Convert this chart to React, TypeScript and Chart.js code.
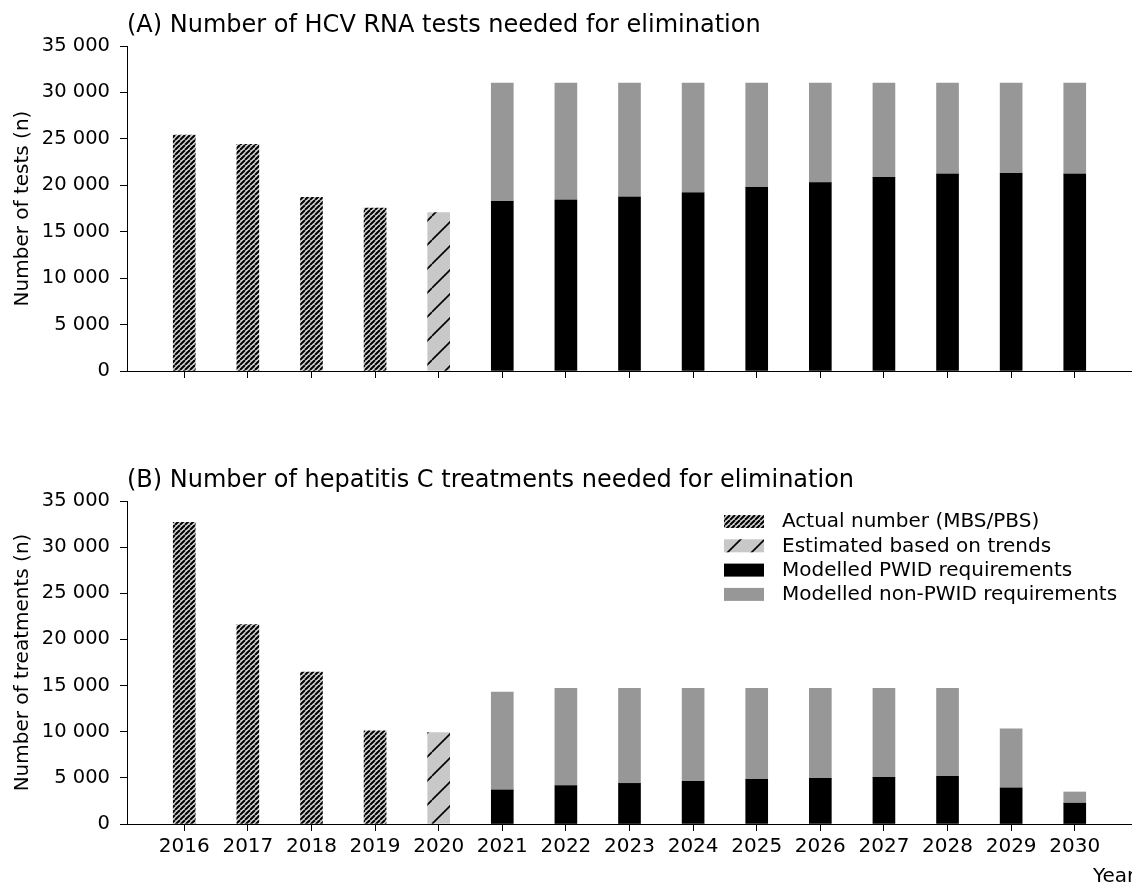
import React, { useEffect, useRef } from "react";
import { Chart, registerables } from "chart.js";

Chart.register(...registerables);

const years = [2016, 2017, 2018, 2019, 2020, 2021, 2022, 2023, 2024, 2025, 2026, 2027, 2028, 2029, 2030];
const actualYears = [2016, 2017, 2018, 2019];
const estimatedYears = [2020];
const modelledYears = [2021, 2022, 2023, 2024, 2025, 2026, 2027, 2028, 2029, 2030];

// Panel A: HCV RNA tests
const testsActual = [25400, 24400, 18700, 17550];
const testsEstimated = [17050];
const testsPWID = [18270, 18400, 18740, 19200, 19780, 20300, 20850, 21200, 21300, 21200];
const testsNonPWID = [12730, 12600, 12260, 11800, 11220, 10700, 10150, 9800, 9700, 9800];

// Panel B: hepatitis C treatments
const treatActual = [32700, 21600, 16450, 10100];
const treatEstimated = [9900];
const treatPWID = [3680, 4150, 4400, 4630, 4850, 4950, 5060, 5170, 3900, 2250];
const treatNonPWID = [10620, 10550, 10300, 10070, 9850, 9750, 9640, 9530, 6400, 1220];

const yTicks = [0, 5000, 10000, 15000, 20000, 25000, 30000, 35000];
const legendLabels = [
  "Actual number (MBS/PBS)",
  "Estimated based on trends",
  "Modelled PWID requirements",
  "Modelled non-PWID requirements",
];

const FONT = '"DejaVu Sans", sans-serif';

function makeHatch(spacing: number, lineWidth: number, bg: string, fg: string) {
  const c = document.createElement("canvas");
  c.width = spacing;
  c.height = spacing;
  const ctx = c.getContext("2d")!;
  ctx.fillStyle = bg;
  ctx.fillRect(0, 0, spacing, spacing);
  ctx.strokeStyle = fg;
  ctx.lineWidth = lineWidth;
  ctx.beginPath();
  for (let k = -1; k <= 1; k++) {
    ctx.moveTo(k * spacing, spacing);
    ctx.lineTo(k * spacing + spacing, 0);
  }
  ctx.stroke();
  const tmp = document.createElement("canvas").getContext("2d")!;
  return tmp.createPattern(c, "repeat")!;
}

function fmt(v: number) {
  return String(v).replace(/\B(?=(\d{3})+(?!\d))/g, " ");
}

function pts(xs: number[], ys: number[]) {
  return xs.map((x, i) => ({ x, y: ys[i] }));
}

type PanelProps = {
  height: number;
  top: number;
  areaBottom: number;
  title: string;
  titleBaseline: number;
  yTitle: string;
  actual: number[];
  estimated: number[];
  pwid: number[];
  nonPwid: number[];
  showXLabels: boolean;
  showLegend: boolean;
};

function Panel(props: PanelProps) {
  const ref = useRef<HTMLCanvasElement>(null);
  useEffect(() => {
    const canvas = ref.current!;
    const dense = makeHatch(5, 2, "#d2d2d2", "#000");
    const sparse = makeHatch(24, 1.6, "#c8c8c8", "#000");
    const overlay = {
      id: "overlay",
      afterDraw(chart: any) {
        const ctx = chart.ctx as CanvasRenderingContext2D;
        const area = chart.chartArea;
        ctx.save();
        ctx.fillStyle = "#000";
        ctx.font = `24px ${FONT}`;
        ctx.textAlign = "left";
        ctx.textBaseline = "alphabetic";
        ctx.fillText(props.title, area.left, props.titleBaseline);
        ctx.font = `20px ${FONT}`;
        ctx.save();
        ctx.translate(23, (area.top + area.bottom) / 2);
        ctx.rotate(-Math.PI / 2);
        ctx.textAlign = "center";
        ctx.textBaseline = "middle";
        ctx.fillText(props.yTitle, 0, 0);
        ctx.restore();
        if (props.showXLabels) {
          ctx.textAlign = "left";
          ctx.textBaseline = "alphabetic";
          ctx.fillText("Year", 1093, chart.height - 1);
        }
        if (props.showLegend) {
          const ds = chart.data.datasets;
          for (let i = 0; i < ds.length; i++) {
            const cy = 522 - 440 + i * 24.3;
            ctx.fillStyle = ds[i].backgroundColor;
            ctx.fillRect(724, cy - 7, 40, 13);
            ctx.fillStyle = "#000";
            ctx.textAlign = "left";
            ctx.textBaseline = "middle";
            ctx.fillText(ds[i].label, 782, cy);
          }
        }
        ctx.restore();
      },
    };
    const chart = new Chart(canvas, {
      type: "bar",
      data: {
        datasets: [
          {
            label: legendLabels[0],
            data: pts(actualYears, props.actual),
            backgroundColor: dense as any,
            borderWidth: 0,
          },
          {
            label: legendLabels[1],
            data: pts(estimatedYears, props.estimated),
            backgroundColor: sparse as any,
            borderWidth: 0,
          },
          {
            label: legendLabels[2],
            data: pts(modelledYears, props.pwid),
            backgroundColor: "#000000",
            borderWidth: 0,
          },
          {
            label: legendLabels[3],
            data: pts(modelledYears, props.nonPwid),
            backgroundColor: "#979797",
            borderWidth: 0,
          },
        ] as any,
      },
      options: {
        animation: false,
        responsive: false,
        maintainAspectRatio: false,
        datasets: { bar: { barThickness: 22 } } as any,
        layout: { padding: { top: props.top, left: 0, right: 0, bottom: 0 } },
        plugins: {
          legend: { display: false },
          tooltip: { enabled: false },
          title: { display: false },
        },
        scales: {
          x: {
            type: "linear",
            stacked: true,
            offset: false,
            min: 2015.1,
            max: 2030.9,
            afterBuildTicks: (scale: any) => {
              scale.ticks = years.map((v) => ({ value: v }));
            },
            afterFit: (scale: any) => {
              scale.height = props.height - props.areaBottom;
            },
            ticks: {
              color: "#000",
              font: { family: FONT, size: 20 },
              padding: 4,
              maxRotation: 0,
              autoSkip: false,
              callback: (v: any) => (props.showXLabels ? String(v) : ""),
            },
            grid: {
              offset: false,
              drawOnChartArea: false,
              drawTicks: true,
              tickLength: 7,
              color: "#000",
              lineWidth: 1,
            },
            border: { display: true, color: "#000", width: 1 },
          },
          y: {
            type: "linear",
            stacked: true,
            min: 0,
            max: 35000,
            afterBuildTicks: (scale: any) => {
              scale.ticks = yTicks.map((v) => ({ value: v }));
            },
            afterFit: (scale: any) => {
              scale.width = 127;
            },
            ticks: {
              color: "#000",
              font: { family: FONT, size: 19.5 },
              padding: 10,
              callback: (v: any) => fmt(Number(v)),
            },
            grid: {
              drawOnChartArea: false,
              drawTicks: true,
              tickLength: 7,
              color: "#000",
              lineWidth: 1,
            },
            border: { display: true, color: "#000", width: 1 },
          },
        },
      } as any,
      plugins: [overlay],
    });
    return () => chart.destroy();
  }, []);
  return (
    <div style={{ width: 1132, height: props.height }}>
      <canvas ref={ref} width={1132} height={props.height} style={{ display: "block" }} />
    </div>
  );
}

export default function App() {
  return (
    <div style={{ position: "absolute", left: 0, top: 0, width: 1132, height: 883, background: "#fff" }}>
      <Panel
        height={440}
        top={46}
        areaBottom={371}
        title="(A) Number of HCV RNA tests needed for elimination"
        titleBaseline={32}
        yTitle="Number of tests (n)"
        actual={testsActual}
        estimated={testsEstimated}
        pwid={testsPWID}
        nonPwid={testsNonPWID}
        showXLabels={false}
        showLegend={false}
      />
      <Panel
        height={443}
        top={61}
        areaBottom={384}
        title="(B) Number of hepatitis C treatments needed for elimination"
        titleBaseline={47}
        yTitle="Number of treatments (n)"
        actual={treatActual}
        estimated={treatEstimated}
        pwid={treatPWID}
        nonPwid={treatNonPWID}
        showXLabels={true}
        showLegend={true}
      />
    </div>
  );
}
